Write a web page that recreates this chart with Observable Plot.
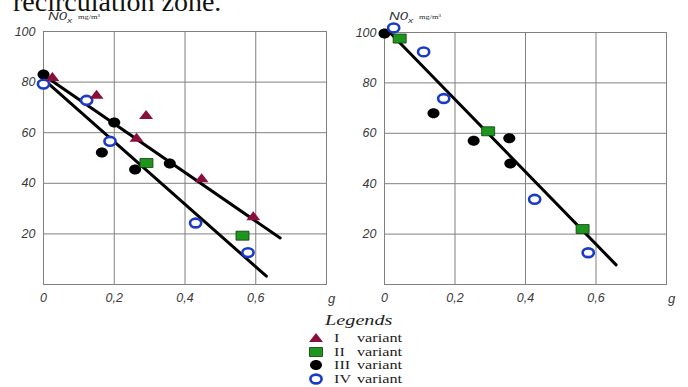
<!DOCTYPE html>
<html>
<head>
<meta charset="utf-8">
<script src="https://cdn.jsdelivr.net/npm/d3@7"></script>
<script src="https://cdn.jsdelivr.net/npm/@observablehq/plot@0.6"></script>
<style>
  html, body { margin: 0; padding: 0; background: #fff; }
  #page { position: relative; width: 688px; height: 387px; overflow: hidden; background: #fff; }
  .abs { position: absolute; white-space: nowrap; }
  #title { font-family: "Liberation Serif", "Times New Roman", serif; font-size: 28px; color: #111; left: 13px; top: -14px; line-height: 32px; }
  .leg { font-family: "Liberation Serif", "Times New Roman", serif; color: #222; transform-origin: left center; transform: scaleX(1.35); }
</style>
</head>
<body>
<div id="page">
  <div id="title" class="abs">recirculation zone.</div>
</div>
<script>
// ---- axis ticks ----
const xTicks = [0, 0.2, 0.4, 0.6];
const xTickLabels = ["0", "0,2", "0,4", "0,6"];
const yTicks = [20, 40, 60, 80, 100];
const xAxisName = "g";
const yAxisName = "N0";
const yAxisSub = "x";
const yAxisUnit = "mg/m³";

// ---- legend ----
const variantNumerals = ["I", "II", "III", "IV"];
const variantWord = "variant";
const legendTitle = "Legends";

// ---- left panel data ----
const leftI_x = [0.025, 0.15, 0.29, 0.263, 0.447, 0.593];
const leftI_y = [82, 75, 67, 58, 42, 27];
const leftII_x = [0.291, 0.5625];
const leftII_y = [48, 19.3];
const leftIII_x = [0, 0.2, 0.165, 0.259, 0.357];
const leftIII_y = [83, 64, 52.2, 45.5, 47.8];
const leftIV_x = [0, 0.122, 0.188, 0.43, 0.578];
const leftIV_y = [79.2, 72.8, 56.6, 24.3, 12.6];
const leftFitA_x = [0.008, 0.669];
const leftFitA_y = [82, 18.4];
const leftFitB_x = [0.006, 0.63];
const leftFitB_y = [80.4, 3.3];

// ---- right panel data ----
const rightII_x = [0.043, 0.294, 0.562];
const rightII_y = [97.6, 60.8, 22];
const rightIII_x = [0, 0.139, 0.253, 0.354, 0.357];
const rightIII_y = [99.6, 68, 57, 58, 48];
const rightIV_x = [0.026, 0.111, 0.168, 0.426, 0.578];
const rightIV_y = [101.8, 92.3, 73.8, 33.8, 12.6];
const rightFit_x = [0.015, 0.657];
const rightFit_y = [100, 7.8];

// ---- colours ----
const colI = "#8a0f3c";
const colII = "#1e961e";
const colIII = "#000000";
const colIV = "#1a3cc4";

// custom (horizontally stretched) symbols, as in the reference
const K = 0.5522848;
function ellipse(rx, ry) {
  return { draw(c) {
    c.moveTo(rx, 0);
    c.bezierCurveTo(rx, ry * K, rx * K, ry, 0, ry);
    c.bezierCurveTo(-rx * K, ry, -rx, ry * K, -rx, 0);
    c.bezierCurveTo(-rx, -ry * K, -rx * K, -ry, 0, -ry);
    c.bezierCurveTo(rx * K, -ry, rx, -ry * K, rx, 0);
    c.closePath();
  }};
}
const triSym = { draw(c) { c.moveTo(0, -5); c.lineTo(7, 4); c.lineTo(-7, 4); c.closePath(); } };
const sqSym = { draw(c) { c.moveTo(-6.5, -4.5); c.lineTo(6.5, -4.5); c.lineTo(6.5, 4.5); c.lineTo(-6.5, 4.5); c.closePath(); } };
const dotSym = ellipse(6, 5);
const ringSym = ellipse(5.6, 4.4);

const zip = (xs, ys) => xs.map((x, i) => ({x, y: ys[i]}));

function panel({mL, mT, series, fits}) {
  const width = 344, height = 310;
  const marks = [
    Plot.gridX(xTicks.concat([0.8]), {stroke: "#808080", strokeOpacity: 1, strokeWidth: 1}),
    Plot.gridY(yTicks, {stroke: "#808080", strokeOpacity: 1, strokeWidth: 1}),
    Plot.frame({stroke: "#808080", strokeWidth: 1}),
    Plot.axisX({ticks: xTicks, tickFormat: (d) => xTickLabels[xTicks.indexOf(d)], label: null, tickSize: 0, tickPadding: 9, fontStyle: "italic", fontSize: 12.5}),
    Plot.axisY({ticks: yTicks, label: null, tickSize: 0, tickPadding: 8, fontStyle: "italic", fontSize: 12.5}),
    Plot.text([xAxisName], {x: () => 0.8, y: () => 0, text: d => d, dx: 5, dy: 9, lineAnchor: "top", fontStyle: "italic", fontSize: 13}),
  ];
  for (const f of fits) marks.push(Plot.line(zip(f[0], f[1]), {x: "x", y: "y", stroke: "#000", strokeWidth: 3}));
  for (const s of series) {
    marks.push(Plot.dot(zip(s.x, s.y), {x: "x", y: "y", symbol: s.symbol, r: 5,
      fill: s.fill, stroke: s.stroke, strokeWidth: s.strokeWidth}));
  }
  const svg = Plot.plot({
    width, height,
    marginLeft: mL, marginRight: 18, marginTop: mT, marginBottom: 26,
    x: {domain: [0, 0.8], axis: null, label: null},
    y: {domain: [0, 100], axis: null, label: null},
    style: {fontFamily: "'Liberation Sans', Arial, sans-serif", fontSize: "12px", color: "#3a3a3a", background: "transparent", overflow: "visible"},
    marks
  });
  // y-axis name N0x mg/m³
  const g = d3.select(svg).append("g").attr("transform", `translate(${mL + 5},20) scale(1.3,1)`);
  const t = g.append("text").attr("fill", "#333").attr("text-anchor", "start")
    .attr("font-family", "'Liberation Sans', Arial, sans-serif");
  t.append("tspan").attr("font-size", 11.5).attr("font-style", "italic").text(yAxisName);
  t.append("tspan").attr("font-size", 8).attr("font-style", "italic").attr("dy", 3).text(yAxisSub);
  g.append("text").attr("x", 23).attr("y", -1).attr("font-size", 6.5).attr("fill", "#333")
    .attr("text-anchor", "start").attr("font-family", "'Liberation Serif', serif").text(yAxisUnit);
  return svg;
}

const seriesI = {symbol: triSym, fill: colI, stroke: "none", strokeWidth: 0};
const seriesII = {symbol: sqSym, fill: colII, stroke: "#0b3a0b", strokeWidth: 0.8};
const seriesIII = {symbol: dotSym, fill: colIII, stroke: "none", strokeWidth: 0};
const seriesIV = {symbol: ringSym, fill: "#fff", stroke: colIV, strokeWidth: 2.6};

const left = panel({mL: 43, mT: 31,
  fits: [[leftFitA_x, leftFitA_y], [leftFitB_x, leftFitB_y]],
  series: [
    {...seriesIII, x: leftIII_x, y: leftIII_y},
    {...seriesIV, x: leftIV_x, y: leftIV_y},
    {...seriesI, x: leftI_x, y: leftI_y},
    {...seriesII, x: leftII_x, y: leftII_y},
  ]});
const right = panel({mL: 44, mT: 32,
  fits: [[rightFit_x, rightFit_y]],
  series: [
    {...seriesIII, x: rightIII_x, y: rightIII_y},
    {...seriesIV, x: rightIV_x, y: rightIV_y},
    {...seriesII, x: rightII_x, y: rightII_y},
  ]});

const page = document.getElementById("page");
left.style.position = "absolute"; left.style.left = "0px"; left.style.top = "0px";
right.style.position = "absolute"; right.style.left = "340px"; right.style.top = "0px";
page.appendChild(left);
page.appendChild(right);

// ---- legend (below the charts) ----
function addDiv(text, x, y, css) {
  const d = document.createElement("div");
  d.className = "abs leg";
  d.textContent = text;
  d.style.left = x + "px"; d.style.top = y + "px";
  Object.assign(d.style, css || {});
  page.appendChild(d);
  return d;
}
addDiv(legendTitle, 325, 310, {fontStyle: "italic", fontSize: "15px", lineHeight: "20px"});
const legSyms = [seriesI, seriesII, seriesIII, seriesIV];
const rowY = [337.5, 351.5, 365, 378.5];
legSyms.forEach((s, i) => {
  const sv = d3.create("svg").attr("width", 18).attr("height", 14)
    .style("position", "absolute").style("left", "307px").style("top", (rowY[i] - 7) + "px");
  sv.append("path").attr("transform", "translate(9,7)")
    .attr("d", d3.symbol(s.symbol, 1)())
    .attr("fill", s.fill).attr("stroke", s.stroke).attr("stroke-width", s.strokeWidth);
  page.appendChild(sv.node());
  addDiv(variantNumerals[i], 334, rowY[i] - 8, {fontSize: "12px", lineHeight: "16px"});
  addDiv(variantWord, 357, rowY[i] - 8, {fontSize: "12px", lineHeight: "16px"});
});
</script>
</body>
</html>
